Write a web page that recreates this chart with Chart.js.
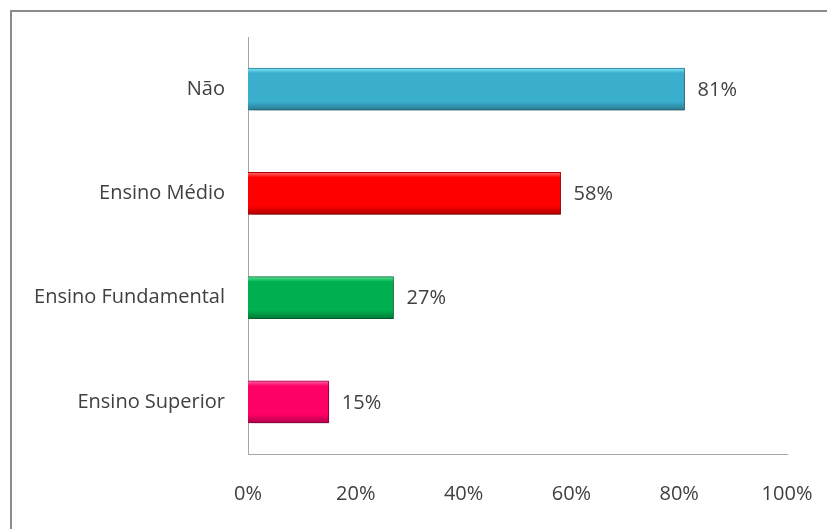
<!DOCTYPE html>
<html lang="pt">
<head>
    <meta charset="UTF-8" />
    <title>Escolaridade</title>
    <script src="https://cdn.jsdelivr.net/npm/chart.js@4/dist/chart.umd.min.js"></script>
    <style>
        html, body { margin: 0; padding: 0; background: #fff; overflow: hidden; }
        #frame { position: absolute; left: 10px; top: 10px; width: 900px; height: 600px; border: 2px solid #8c8c8c; }
        #box { position: absolute; left: 0; top: 0; width: 827px; height: 529px; }
    </style>
</head>
<body>
    <div id="frame"></div>
    <div id="box"><canvas id="grafico"></canvas></div>
    <script>
        // dados
        const categorias = ['Não', 'Ensino Médio', 'Ensino Fundamental', 'Ensino Superior'];
        const valores = [81, 58, 27, 15];
        const coresBase = ['#3aaecd', '#ff0000', '#00b050', '#ff0066'];
        const coresClaras = ['#80e8fa', '#ff7070', '#60e496', '#ff66a6'];
        const coresEscuras = ['#2a7a90', '#b00000', '#007a38', '#b0004a'];
        const ticksX = [0, 20, 40, 60, 80, 100];

        const fonte = { family: "'Open Sans', sans-serif", size: 20 };
        const corTexto = '#404040';
        const espessura = 42;

        function gradiente(context) {
            const chart = context.chart;
            const i = context.dataIndex;
            if (!chart.chartArea || !chart.scales.y) return coresBase[i];
            const yc = chart.scales.y.getPixelForValue(i);
            const g = chart.ctx.createLinearGradient(0, yc - espessura / 2, 0, yc + espessura / 2);
            g.addColorStop(0, coresClaras[i]);
            g.addColorStop(0.12, coresBase[i]);
            g.addColorStop(0.8, coresBase[i]);
            g.addColorStop(1, coresEscuras[i]);
            return g;
        }

        const sombra = {
            id: 'sombra',
            beforeDatasetDraw(chart) {
                const ctx = chart.ctx;
                ctx.save();
                ctx.shadowColor = 'rgba(0,0,0,0.35)';
                ctx.shadowBlur = 5;
                ctx.shadowOffsetX = 2;
                ctx.shadowOffsetY = 3;
            },
            afterDatasetDraw(chart) {
                chart.ctx.restore();
            }
        };

        const rotulos = {
            id: 'rotulos',
            afterDatasetsDraw(chart) {
                const ctx = chart.ctx;
                const meta = chart.getDatasetMeta(0);
                ctx.save();
                ctx.font = fonte.size + 'px ' + fonte.family;
                ctx.fillStyle = corTexto;
                ctx.textAlign = 'left';
                ctx.textBaseline = 'middle';
                meta.data.forEach((bar, i) => {
                    ctx.fillText(valores[i] + '%', bar.x + 13, bar.y + 1);
                });
                ctx.restore();
            }
        };

        new Chart(document.getElementById('grafico'), {
            type: 'bar',
            data: {
                labels: categorias,
                datasets: [{
                    data: valores,
                    backgroundColor: gradiente,
                    borderColor: coresEscuras,
                    borderWidth: 1,
                    barThickness: espessura
                }]
            },
            options: {
                indexAxis: 'y',
                responsive: true,
                maintainAspectRatio: false,
                animation: false,
                layout: { padding: { top: 37, right: 40, left: 0, bottom: 0 } },
                scales: {
                    x: {
                        min: 0, max: 100,
                        afterBuildTicks: s => { s.ticks = ticksX.map(v => ({ value: v })); },
                        afterFit: s => { s.height = 75; s.paddingLeft = 0; s.paddingRight = 0; },
                        grid: { display: false, drawTicks: false },
                        border: { display: true, color: '#a6a6a6', width: 1 },
                        ticks: { font: fonte, color: corTexto, padding: 28, callback: v => v + '%' }
                    },
                    y: {
                        afterFit: s => { s.width = 248; },
                        grid: { display: false, drawTicks: false },
                        border: { display: true, color: '#a6a6a6', width: 1 },
                        ticks: { font: fonte, color: corTexto, padding: 23 }
                    }
                },
                plugins: { legend: { display: false }, tooltip: { enabled: false } }
            },
            plugins: [sombra, rotulos]
        });
    </script>
</body>
</html>
